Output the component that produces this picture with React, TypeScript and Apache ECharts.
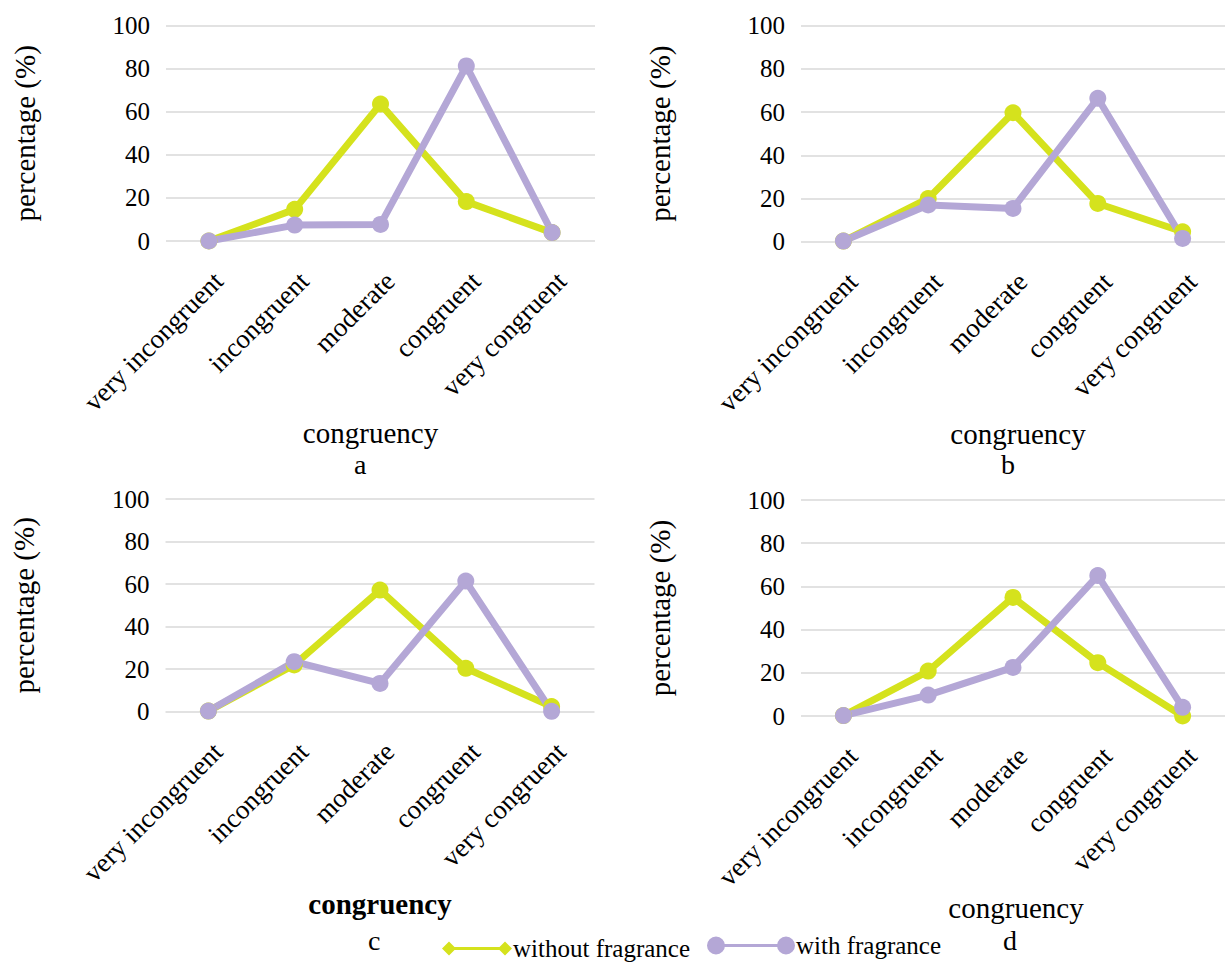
import React, { useEffect, useRef } from "react";
import * as echarts from "echarts";

const categories = ["very incongruent", "incongruent", "moderate", "congruent", "very congruent"];
const yTicks = [0, 20, 40, 60, 80, 100];
const panelLetters = ["a", "b", "c", "d"];
const seriesNames = ["without fragrance", "with fragrance"];

const aWithout = [0, 14.7, 63.6, 18.3, 3.9];
const aWith = [0, 7.4, 7.7, 81.3, 3.9];
const bWithout = [0.3, 20, 59.7, 17.7, 4.6];
const bWith = [0.3, 17, 15.4, 66.4, 1.5];
const cWithout = [0.3, 22, 57.2, 20.4, 2.4];
const cWith = [0.3, 23.5, 13.3, 61.4, 0.2];
const dWithout = [0.2, 20.8, 54.9, 24.7, 0];
const dWith = [0.2, 9.7, 22.5, 65, 4];

const YELLOW = "#d5e21d";
const PURPLE = "#b4a7d6";
const GRID = "#d9d9d9";
const FONT = "Liberation Serif";

export default function App() {
  const ref = useRef<HTMLDivElement>(null);

  useEffect(() => {
    document.body.style.margin = "0";
    if (!ref.current) return;
    const chart = echarts.init(ref.current, undefined, { renderer: "svg" });

    const grids = [
      { left: 166, top: 25.7, width: 429, height: 215.3 },
      { left: 801, top: 25.7, width: 430, height: 216 },
      { left: 165.5, top: 499, width: 429, height: 212.7 },
      { left: 801, top: 500, width: 430, height: 216 },
    ];
    const withoutData = [aWithout, bWithout, cWithout, dWithout];
    const withData = [aWith, bWith, cWith, dWith];
    const namePads = [[0, 20, 0, 0], [0, 0, 0, 10], [0, 0, 0, 0], [0, 0, 0, 6]];
    const letterPos = [
      { x: 362, y: 450 },
      { x: 1009, y: 450 },
      { x: 376, y: 926 },
      { x: 1011, y: 926 },
    ];

    const option: any = {
      animation: false,
      backgroundColor: "#ffffff",
      textStyle: { fontFamily: FONT },
      grid: grids.map((g) => ({ ...g, containLabel: false })),
      xAxis: grids.map((_, i) => ({
        type: "category",
        gridIndex: i,
        data: categories,
        boundaryGap: true,
        axisLine: { show: false },
        axisTick: { show: false },
        axisLabel: {
          rotate: 45,
          interval: 0,
          margin: 26,
          verticalAlign: "top",
          lineHeight: 27,
          fontFamily: FONT,
          fontSize: 27,
          color: "#000",
        },
        name: "congruency",
        nameLocation: "middle",
        nameGap: 182,
        nameTextStyle: {
          fontFamily: FONT,
          fontSize: 29,
          color: "#000",
          fontWeight: i === 2 ? "bold" : "normal",
          padding: namePads[i],
          lineHeight: 20,
        },
      })),
      yAxis: grids.map((_, i) => ({
        type: "value",
        gridIndex: i,
        min: yTicks[0],
        max: yTicks[yTicks.length - 1],
        interval: 20,
        axisLine: { show: false },
        axisTick: { show: false },
        axisLabel: { margin: 16, fontFamily: FONT, fontSize: 25, color: "#000" },
        splitLine: { show: true, lineStyle: { color: GRID, width: 1.5 } },
        name: "percentage (%)",
        nameLocation: "middle",
        nameGap: 127,
        nameTextStyle: { fontFamily: FONT, fontSize: 29, color: "#000" },
      })),
      legend: [
        {
          left: 437,
          top: 931,
          itemWidth: 70,
          itemHeight: 14,
          itemGap: 0,
          textStyle: { fontFamily: FONT, fontSize: 25, color: "#000", padding: [0, 0, 0, -4] },
          data: [
            {
              name: seriesNames[0],
              icon: "path://M0,7 L7,0 L14,7 L7,14 Z M7,5.5 L63,5.5 L63,8.5 L7,8.5 Z M56,7 L63,0 L70,7 L63,14 Z",
              itemStyle: { color: YELLOW, borderWidth: 0 },
            },
          ],
        },
        {
          left: 702,
          top: 928,
          itemWidth: 88,
          itemHeight: 18,
          itemGap: 0,
          textStyle: { fontFamily: FONT, fontSize: 25, color: "#000", padding: [0, 0, 0, -4] },
          data: [
            {
              name: seriesNames[1],
              icon: "path://M0,9 A9,9 0 1,1 18,9 A9,9 0 1,1 0,9 Z M9,7.5 L79,7.5 L79,10.5 L9,10.5 Z M70,9 A9,9 0 1,1 88,9 A9,9 0 1,1 70,9 Z",
              itemStyle: { color: PURPLE, borderWidth: 0 },
            },
          ],
        },
      ],
      graphic: panelLetters.map((l, i) => ({
        type: "text",
        left: letterPos[i].x - 8,
        top: letterPos[i].y,
        style: { text: l, font: `28px ${FONT}`, lineHeight: 18, fill: "#000" },
      })),
      series: [] as any[],
    };

    for (let i = 0; i < 4; i++) {
      option.series.push({
        name: seriesNames[0],
        type: "line",
        xAxisIndex: i,
        yAxisIndex: i,
        data: withoutData[i],
        symbol: "circle",
        symbolSize: 17,
        lineStyle: { color: YELLOW, width: 7 },
        itemStyle: { color: YELLOW },
      });
      option.series.push({
        name: seriesNames[1],
        type: "line",
        xAxisIndex: i,
        yAxisIndex: i,
        data: withData[i],
        symbol: "circle",
        symbolSize: 17,
        lineStyle: { color: PURPLE, width: 7 },
        itemStyle: { color: PURPLE },
      });
    }

    chart.setOption(option);
    return () => chart.dispose();
  }, []);

  return <div ref={ref} style={{ width: 1225, height: 963 }} />;
}
